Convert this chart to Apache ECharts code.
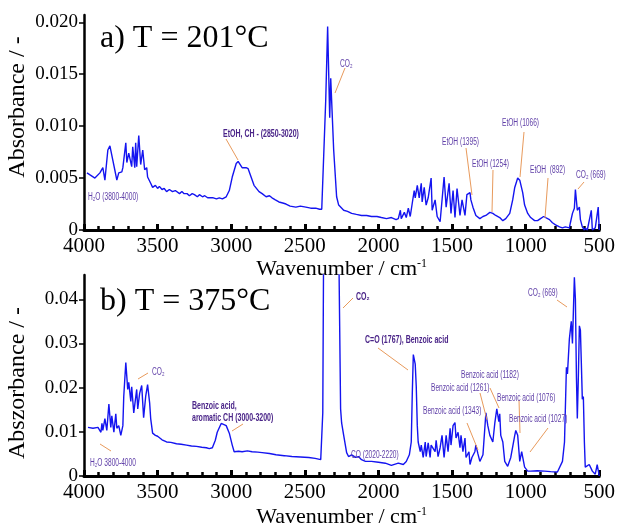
<!DOCTYPE html>
<html><head><meta charset="utf-8">
<script src="https://cdn.jsdelivr.net/npm/echarts@6/dist/echarts.min.js"></script>
<style>html,body{margin:0;padding:0;background:#fff}#c{width:618px;height:529px}</style>
</head><body><div id="c"></div>
<script>
// ---- data ----
const xTicks = [4000, 3500, 3000, 2500, 2000, 1500, 1000, 500];
const yTicksA = [0, 0.005, 0.010, 0.015, 0.020];
const yTicksB = [0, 0.01, 0.02, 0.03, 0.04];

// panel a) T = 201 °C : [wavenumber, absorbance]
const spectrumA = [
[3980,.0055],[3959,.0053],[3926,.0050],[3892,.0055],[3872,.0060],[3858,.0048],[3838,.0077],[3824,.0081],[3818,.0080],[3804,.0067],
[3791,.0058],[3777,.0048],[3764,.0055],[3743,.0056],[3736,.0060],[3716,.0084],[3709,.0065],[3696,.0074],[3676,.0061],[3669,.0080],
[3655,.0060],[3649,.0084],[3642,.0061],[3628,.0091],[3615,.0063],[3601,.0077],[3588,.0058],[3574,.0060],[3568,.0051],[3547,.0045],
[3534,.0041],[3515,.0043],[3500,.0040],[3488,.0042],[3470,.0039],[3455,.0040],[3439,.0037],[3420,.0039],[3399,.0037],[3380,.0038],
[3351,.0035],[3335,.0037],[3320,.0035],[3300,.0035],[3284,.0033],[3265,.0035],[3250,.0034],[3230,.0032],[3216,.0034],[3195,.0032],
[3180,.0033],[3160,.0031],[3149,.0032],[3122,.0031],[3100,.0030],[3081,.0031],[3060,.0030],[3034,.0032],[3013,.0038],[2993,.0051],
[2966,.0064],[2953,.0066],[2926,.0060],[2899,.0060],[2885,.0059],[2865,.0051],[2845,.0043],[2811,.0037],[2790,.0035],[2763,.0032],
[2740,.0033],[2723,.0031],[2700,.0029],[2676,.0027],[2650,.0026],[2628,.0025],[2600,.0023],[2561,.0022],[2530,.0023],[2493,.0022],
[2460,.0021],[2426,.0021],[2400,.0020],[2385,.0020],[2372,.0019],[2358,.0125],[2345,.0196],[2331,.0108],[2324,.0146],[2304,.0077],
[2284,.0032],[2270,.0024],[2236,.0019],[2210,.0018],[2182,.0016],[2150,.0015],[2115,.0014],[2080,.0014],[2047,.0013],[2010,.0013],
[1980,.0012],[1945,.0011],[1912,.0012],[1880,.0010],[1865,.0011],[1851,.0019],[1845,.0011],[1824,.0017],[1811,.0012],[1797,.0021],
[1784,.0013],[1770,.0026],[1757,.0038],[1750,.0031],[1736,.0043],[1723,.0031],[1709,.0045],[1703,.0027],[1689,.0041],[1676,.0024],
[1662,.0031],[1642,.0050],[1635,.0019],[1615,.0029],[1601,.0013],[1581,.0008],[1574,.0019],[1554,.0051],[1540,.0022],[1520,.0045],
[1507,.0016],[1493,.0038],[1480,.0012],[1466,.0040],[1446,.0014],[1432,.0029],[1412,.0014],[1399,.0034],[1378,.0036],[1372,.0029],
[1358,.0022],[1338,.0014],[1311,.0011],[1290,.0013],[1270,.0014],[1243,.0017],[1223,.0016],[1203,.0014],[1176,.0012],[1155,.0009],
[1135,.0011],[1108,.0016],[1088,.0029],[1074,.0041],[1054,.0050],[1040,.0048],[1020,.0036],[1007,.0024],[986,.0016],[966,.0012],
[939,.0009],[919,.0009],[899,.0011],[878,.0013],[865,.0012],[838,.0010],[818,.0007],[797,.0005],[770,.0003],[750,.0002],
[730,.0003],[703,.0002],[696,.0007],[682,.0016],[669,.0021],[662,.0039],[649,.0019],[635,.0022],[628,.0010],[615,.0003],
[601,.0000],[595,.0002],[581,.0000],[554,.0019],[547,.0000],[527,.0002],[507,.0022],[500,.0000]
];

// panel b) T = 375 °C : [wavenumber, absorbance]
const spectrumB = [
[3973,.0110],[3939,.0108],[3905,.0110],[3885,.0099],[3878,.0119],[3872,.0103],[3858,.0130],[3845,.0103],[3831,.0163],[3818,.0110],
[3811,.0136],[3797,.0099],[3784,.0141],[3777,.0108],[3764,.0114],[3750,.0092],[3736,.0114],[3730,.0180],[3716,.0257],[3703,.0196],
[3696,.0212],[3682,.0169],[3676,.0202],[3662,.0143],[3642,.0196],[3635,.0152],[3622,.0187],[3608,.0205],[3595,.0132],[3581,.0180],
[3568,.0207],[3554,.0165],[3547,.0130],[3534,.0097],[3515,.0092],[3500,.0090],[3470,.0082],[3439,.0077],[3410,.0076],[3372,.0073],
[3340,.0072],[3304,.0070],[3270,.0068],[3236,.0067],[3200,.0065],[3169,.0064],[3149,.0062],[3128,.0064],[3108,.0081],[3095,.0099],
[3068,.0119],[3061,.0123],[3034,.0114],[3013,.0097],[2993,.0070],[2980,.0055],[2950,.0056],[2926,.0055],[2890,.0057],[2858,.0055],
[2820,.0054],[2790,.0053],[2740,.0051],[2696,.0048],[2640,.0046],[2588,.0044],[2530,.0043],[2473,.0042],[2430,.0040],[2392,.0037],
[2385,.0037],[2378,.0143],[2368,.0800],[2290,.0800],[2272,.0600],[2257,.0152],[2250,.0120],[2236,.0092],[2216,.0053],[2203,.0044],
[2182,.0048],[2155,.0042],[2135,.0044],[2115,.0037],[2088,.0033],[2047,.0033],[2000,.0031],[1953,.0029],[1912,.0024],[1865,.0029],
[1831,.0026],[1811,.0033],[1790,.0048],[1777,.0077],[1770,.0187],[1763,.0275],[1750,.0253],[1743,.0202],[1736,.0114],[1730,.0077],
[1716,.0055],[1709,.0070],[1696,.0042],[1682,.0077],[1676,.0044],[1662,.0075],[1649,.0042],[1642,.0070],[1615,.0055],[1608,.0081],
[1595,.0044],[1581,.0064],[1568,.0092],[1554,.0042],[1540,.0092],[1527,.0055],[1513,.0108],[1507,.0070],[1493,.0114],[1480,.0121],
[1473,.0086],[1459,.0099],[1446,.0064],[1439,.0092],[1426,.0055],[1412,.0086],[1405,.0042],[1385,.0055],[1378,.0026],[1365,.0042],
[1345,.0055],[1338,.0070],[1324,.0050],[1311,.0033],[1290,.0048],[1270,.0143],[1257,.0114],[1243,.0092],[1223,.0077],[1209,.0121],
[1196,.0152],[1182,.0123],[1176,.0141],[1169,.0092],[1155,.0077],[1142,.0033],[1122,.0022],[1101,.0042],[1074,.0092],[1067,.0103],
[1054,.0092],[1040,.0033],[1027,.0055],[1007,.0020],[986,.0011],[966,.0011],[920,.0012],[872,.0011],[830,.0010],[784,.0009],
[750,.0033],[736,.0077],[723,.0246],[716,.0231],[703,.0310],[690,.0350],[682,.0300],[669,.0450],[662,.0400],[655,.0224],
[649,.0130],[642,.0224],[635,.0340],[628,.0330],[622,.0260],[615,.0174],[608,.0180],[601,.0077],[595,.0020],[568,.0026],
[547,.0011],[527,.0004],[514,.0026],[500,.0000]
];

// ---- annotations (layout, pixels) ----
const notesA = [
  {t:'H\u2082O (3800-4000)', x:88, y:197},
  {t:'EtOH, CH - (2850-3020)', x:223, y:134, b:true},
  {t:'CO\u2082', x:340, y:64},
  {t:'EtOH (1395)', x:442, y:142},
  {t:'EtOH (1254)', x:472, y:164},
  {t:'EtOH (1066)', x:502, y:123},
  {t:'EtOH  (892)', x:530, y:170},
  {t:'CO\u2082 (669)', x:576, y:175}
];
const leadersA = [[226,139,238,160],[345,68,335,93],[466,148,472,195],[493,170,492,212],[524,132,520,177],[548,178,545,218],[584,182,578,189]];
const notesB = [
  {t:'H\u2082O 3800-4000', x:90, y:463},
  {t:'CO\u2082', x:152, y:372},
  {t:'Benzoic acid,', x:192, y:406, b:true},
  {t:'aromatic CH (3000-3200)', x:192, y:418, b:true},
  {t:'CO\u2082', x:356, y:297, b:true},
  {t:'C=O (1767), Benzoic acid', x:365, y:340, b:true},
  {t:'CO (2020-2220)', x:351, y:455},
  {t:'Benzoic acid (1182)', x:461, y:375},
  {t:'Benzoic acid (1261)', x:431, y:388},
  {t:'Benzoic acid (1076)', x:497, y:398},
  {t:'Benzoic acid (1343)', x:423, y:411},
  {t:'Benzoic acid (1027)', x:509, y:419},
  {t:'CO\u2082 (669)', x:528, y:293}
];
const leadersB = [[100,444,111,451],[148,373,138,379],[232,431,243,424],[353,298,343,308],[378,348,408,370],[490,388,499,408],[480,393,487,420],[519,400,520,433],[467,423,478,450],[548,428,530,452],[557,300,567,307]];

// ---- chart ----
const chart = echarts.init(document.getElementById('c'), null, {renderer:'canvas'});
const SERIF = '"Liberation Serif","Times New Roman",serif';
const SANS = '"Liberation Sans",Arial,sans-serif';

function xAxis(i){
  return {
    type:'value', gridIndex:i, min:500, max:4000, interval:500, inverse:true,
    axisLine:{show:true, onZero:false, lineStyle:{color:'#000', width:3}},
    axisTick:{show:true, inside:true, length:6, lineStyle:{color:'#000', width:3}},
    minorTick:{show:true, splitNumber:5, length:4, lineStyle:{color:'#000', width:2.5}},
    splitLine:{show:false},
    axisLabel:{color:'#000', fontFamily:SERIF, fontSize:21, margin:6, customValues:xTicks,
      formatter:v=>String(Math.round(v))},
    name:'{n|Wavenumber / cm}{s|-1}', nameLocation:'middle', nameGap:i===0?28:30,
    nameTextStyle:{rich:{n:{fontFamily:SERIF, fontSize:22, color:'#000'}, s:{fontFamily:SERIF, fontSize:12, color:'#000', verticalAlign:'top', padding:[0,0,10,0]}}}
  };
}
function yAxis(i, max, ticks, dec){
  return {
    type:'value', gridIndex:i, min:0, max:max,
    axisLine:{show:true, lineStyle:{color:'#000', width:2.5}},
    axisTick:{show:true, inside:false, length:5, customValues:ticks, lineStyle:{color:'#000', width:1.5}},
    splitLine:{show:false},
    axisLabel:{color:'#000', fontFamily:SERIF, fontSize:19, margin:6, customValues:ticks,
      formatter:v=> v===0 ? '0' : v.toFixed(dec)}
  };
}

const graphics = [];
function addNotes(notes, leaders){
  leaders.forEach(l=>graphics.push({type:'line', shape:{x1:l[0],y1:l[1],x2:l[2],y2:l[3]}, style:{stroke:'#e89a5c', lineWidth:1}, z:50}));
  notes.forEach(n=>graphics.push({type:'text', x:n.x, y:n.y, scaleX:n.b?0.7:0.66, z:60,
    style:{text:n.t, fill:n.b?'#4a2488':'#6040a8', font:(n.b?'bold ':'')+'10px '+SANS, verticalAlign:'middle', align:'left'}}));
}
addNotes(notesA, leadersA);
addNotes(notesB, leadersB);
graphics.push({type:'text', x:100, y:39, style:{text:'a) T = 201\u00b0C', fill:'#000', font:'32px '+SERIF, verticalAlign:'middle'}});
graphics.push({type:'text', x:100, y:302, style:{text:'b) T = 375\u00b0C', fill:'#000', font:'32px '+SERIF, verticalAlign:'middle'}});
graphics.push({type:'text', x:18, y:107, rotation:Math.PI/2, style:{text:'Absorbance / -', fill:'#000', font:'24px '+SERIF, align:'center', verticalAlign:'middle'}});
graphics.push({type:'text', x:18, y:383, rotation:Math.PI/2, style:{text:'Abszorbance / -', fill:'#000', font:'24px '+SERIF, align:'center', verticalAlign:'middle'}});

chart.setOption({
  animation:false,
  backgroundColor:'#fff',
  grid:[
    {left:84, top:15, width:518, height:215},
    {left:84, top:275, width:518, height:207}
  ],
  xAxis:[xAxis(0), xAxis(1)],
  yAxis:[yAxis(0, 0.0207, yTicksA, 3), yAxis(1, 0.0455, yTicksB, 2)],
  series:[
    {type:'line', xAxisIndex:0, yAxisIndex:0, data:spectrumA, showSymbol:false, clip:true,
      lineStyle:{color:'#1414f0', width:1.4}, z:10},
    {type:'line', xAxisIndex:1, yAxisIndex:1, data:spectrumB, showSymbol:false, clip:true,
      lineStyle:{color:'#1414f0', width:1.4}, z:10}
  ],
  graphic:graphics
});
</script></body></html>
